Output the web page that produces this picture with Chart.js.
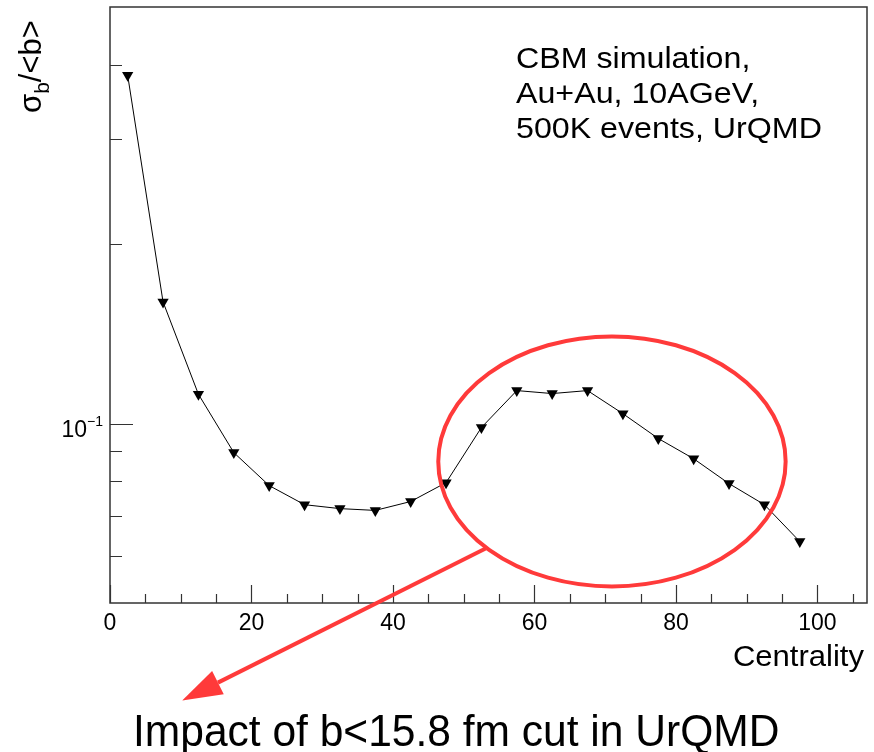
<!DOCTYPE html>
<html>
<head>
<meta charset="utf-8">
<title>sigma_b / <b> vs centrality</title>
<script src="https://cdn.jsdelivr.net/npm/chart.js@4.4.0/dist/chart.umd.min.js"></script>
<style>
  html, body { margin: 0; padding: 0; background: #fff; }
  #wrap { width: 874px; height: 752px; position: relative; }
</style>
</head>
<body>
<div id="wrap"><canvas id="chart" width="874" height="752"></canvas></div>
<script>
// Data
const centrality = [2.5, 7.5, 12.5, 17.5, 22.5, 27.5, 32.5, 37.5, 42.5, 47.5,
                    52.5, 57.5, 62.5, 67.5, 72.5, 77.5, 82.5, 87.5, 92.5, 97.5];
const sigmaRatio = [0.384, 0.160, 0.112, 0.0894, 0.0787, 0.0731, 0.0720, 0.0715, 0.0740, 0.0796,
                    0.0985, 0.1136, 0.1123, 0.1136, 0.1039, 0.0944, 0.0873, 0.0793, 0.0731, 0.0634];

// Axis ticks
const xMajorTicks = [0, 20, 40, 60, 80, 100];
const xMinorTicks = [5, 10, 15, 25, 30, 35, 45, 50, 55, 65, 70, 75, 85, 90, 95, 105];
const yMajorTicks = [0.1];
const yMinorTicks = [0.06, 0.07, 0.08, 0.09, 0.2, 0.3, 0.4];

// Annotation texts
const infoLines = ['CBM simulation,', 'Au+Au, 10AGeV,', '500K events, UrQMD'];
const bottomNote = 'Impact of b<15.8 fm cut in UrQMD';
const xTitle = 'Centrality';

// Red ellipse (data coords) and arrow
const ellipseBox = { xMin: 46.4, xMax: 95.5, yMin: 0.0533, yMax: 0.140 };
const arrowFrom = { x: 53.3, y: 0.0619 };
const arrowTo = { x: 10.2, y: 0.0343 };

const FONT = '"Liberation Sans", Arial, Helvetica, sans-serif';
const RED = '#ff3a3a';

// text with a horizontal stretch (the screenshot text is a bit wider/narrower than the font)
function stretchText(ctx, text, x, y, sx, align) {
  ctx.save();
  ctx.translate(x, y);
  ctx.scale(sx, 1);
  ctx.textAlign = align || 'left';
  ctx.fillText(text, 0, 0);
  ctx.restore();
}

// frame + inward ticks, ROOT style
const framePlugin = {
  id: 'frame',
  beforeDatasetsDraw(chart) {
    const ctx = chart.ctx;
    const a = chart.chartArea;
    const xs = chart.scales.x;
    const ys = chart.scales.y;
    ctx.save();
    ctx.strokeStyle = '#333';
    ctx.lineWidth = 1.5;
    ctx.strokeRect(a.left, a.top, a.right - a.left, a.bottom - a.top);

    ctx.lineWidth = 1.2;
    ctx.beginPath();
    xMajorTicks.forEach(v => {
      const px = Math.round(xs.getPixelForValue(v)) + 0.5;
      ctx.moveTo(px, a.bottom); ctx.lineTo(px, a.bottom - 18);
    });
    xMinorTicks.forEach(v => {
      const px = Math.round(xs.getPixelForValue(v)) + 0.5;
      ctx.moveTo(px, a.bottom); ctx.lineTo(px, a.bottom - 9);
    });
    yMajorTicks.forEach(v => {
      const py = Math.round(ys.getPixelForValue(v)) + 0.5;
      ctx.moveTo(a.left, py); ctx.lineTo(a.left + 23, py);
    });
    yMinorTicks.forEach(v => {
      const py = Math.round(ys.getPixelForValue(v)) + 0.5;
      ctx.moveTo(a.left, py); ctx.lineTo(a.left + 12, py);
    });
    ctx.stroke();

    // y tick label 10^-1
    ctx.fillStyle = '#000';
    ctx.textBaseline = 'alphabetic';
    yMajorTicks.forEach(v => {
      const py = ys.getPixelForValue(v);
      ctx.font = '14px ' + FONT;
      ctx.textAlign = 'right';
      ctx.fillText('\u22121', a.left - 7, py + 2);
      const supW = ctx.measureText('\u22121').width;
      ctx.font = '23px ' + FONT;
      ctx.fillText('10', a.left - 7 - supW, py + 13);
    });
    ctx.restore();
  },
  afterDraw(chart) {
    const ctx = chart.ctx;
    const xs = chart.scales.x;
    const ys = chart.scales.y;
    ctx.save();
    ctx.fillStyle = '#000';
    ctx.textBaseline = 'alphabetic';

    // x axis title
    ctx.font = '29px ' + FONT;
    stretchText(ctx, xTitle, 864, 666, 1.07, 'right');

    // y axis title: sigma_b/<b>, rotated
    ctx.save();
    ctx.translate(41, 113);
    ctx.rotate(-Math.PI / 2);
    ctx.textAlign = 'left';
    ctx.font = '31px ' + FONT;
    ctx.fillText('\u03c3', 0, 0);
    let w = ctx.measureText('\u03c3').width;
    ctx.font = '21px ' + FONT;
    ctx.fillText('b', w, 8);
    w += ctx.measureText('b').width;
    ctx.font = '31px ' + FONT;
    ctx.fillText('/<b>', w, 0);
    ctx.restore();

    // info text
    ctx.font = '29px ' + FONT;
    infoLines.forEach((t, i) => stretchText(ctx, t, 516, 68 + i * 35, 1.11));

    // red ellipse
    const x1 = xs.getPixelForValue(ellipseBox.xMin);
    const x2 = xs.getPixelForValue(ellipseBox.xMax);
    const y1 = ys.getPixelForValue(ellipseBox.yMax);
    const y2 = ys.getPixelForValue(ellipseBox.yMin);
    ctx.strokeStyle = RED;
    ctx.lineWidth = 4;
    ctx.beginPath();
    ctx.ellipse((x1 + x2) / 2, (y1 + y2) / 2, (x2 - x1) / 2, (y2 - y1) / 2, 0, 0, Math.PI * 2);
    ctx.stroke();

    // red arrow
    const sx = xs.getPixelForValue(arrowFrom.x), sy = ys.getPixelForValue(arrowFrom.y);
    const ex = xs.getPixelForValue(arrowTo.x), ey = ys.getPixelForValue(arrowTo.y);
    const ang = Math.atan2(ey - sy, ex - sx);
    const headLen = 40, headHalf = 13;
    const bx = ex - Math.cos(ang) * headLen, by = ey - Math.sin(ang) * headLen;
    ctx.beginPath();
    ctx.moveTo(sx, sy);
    ctx.lineTo(bx, by);
    ctx.stroke();
    ctx.fillStyle = RED;
    ctx.beginPath();
    ctx.moveTo(ex, ey);
    ctx.lineTo(bx + Math.sin(ang) * headHalf, by - Math.cos(ang) * headHalf);
    ctx.lineTo(bx - Math.sin(ang) * headHalf, by + Math.cos(ang) * headHalf);
    ctx.closePath();
    ctx.fill();

    // bottom note
    ctx.fillStyle = '#000';
    ctx.font = '45px ' + FONT;
    stretchText(ctx, bottomNote, 133, 746, 0.945);
    ctx.restore();
  }
};

const ctx = document.getElementById('chart').getContext('2d');
new Chart(ctx, {
  type: 'line',
  data: {
    datasets: [{
      data: centrality.map((c, i) => ({ x: c, y: sigmaRatio[i] })),
      borderColor: '#000',
      borderWidth: 1,
      tension: 0,
      pointStyle: 'triangle',
      rotation: 180,
      pointRadius: 6.5,
      pointBackgroundColor: '#000',
      pointBorderColor: '#000',
      pointBorderWidth: 0,
      fill: false
    }]
  },
  options: {
    responsive: false,
    animation: false,
    layout: { padding: { top: 7, right: 7, left: 0, bottom: 0 } },
    plugins: {
      legend: { display: false },
      tooltip: { enabled: false }
    },
    scales: {
      x: {
        type: 'linear',
        min: 0,
        max: 107,
        grid: { display: false, drawTicks: false },
        border: { display: false },
        ticks: {
          stepSize: 20,
          includeBounds: false,
          autoSkip: false,
          maxRotation: 0,
          padding: 7,
          color: '#000',
          font: { family: FONT, size: 23 }
        },
        afterFit: s => { s.height = 149; }
      },
      y: {
        type: 'logarithmic',
        min: 0.05,
        max: 0.5,
        grid: { display: false, drawTicks: false },
        border: { display: false },
        ticks: { display: false },
        afterFit: s => { s.width = 110; }
      }
    }
  },
  plugins: [framePlugin]
});
</script>
</body>
</html>
